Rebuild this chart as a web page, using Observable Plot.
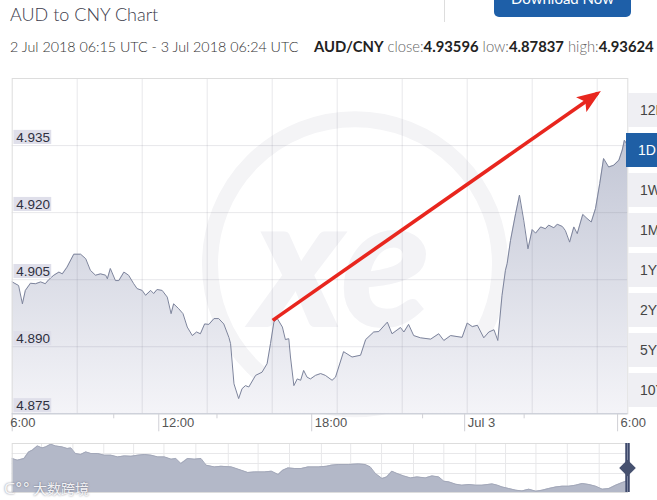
<!DOCTYPE html>
<html><head><meta charset="utf-8">
<script src="https://cdn.jsdelivr.net/npm/d3@7"></script>
<script src="https://cdn.jsdelivr.net/npm/@observablehq/plot@0.6"></script>
<style>
body{margin:0;background:#fff;width:657px;height:500px;overflow:hidden;position:relative;font-family:Lato,"Open Sans",sans-serif;}
#title{position:absolute;left:10px;top:3px;font-size:18px;font-weight:300;color:#3b3b4b;white-space:nowrap;}
#sub{position:absolute;left:10px;top:38px;font-size:14.3px;font-weight:300;color:#333;white-space:nowrap;}
#stats{position:absolute;left:314px;top:37px;font-size:14.8px;color:#666;white-space:nowrap;font-weight:300;}
#stats b{color:#222;font-weight:700;}
#sep{position:absolute;left:444px;top:0;width:1px;height:22px;background:#ddd;}
#dl{position:absolute;left:494px;top:0;width:137px;height:17px;background:#1e5fa8;border-radius:0 0 5px 5px;overflow:hidden;}
#dl span{position:absolute;left:0;right:0;top:-9px;text-align:center;color:#fff;font-size:15px;line-height:15px;}
#main{position:absolute;left:0;top:60px;}
#nav{position:absolute;left:0;top:440px;}
.btn{position:absolute;left:628px;width:40px;height:34px;background:#efeff3;color:#444;font-family:"Liberation Sans",Arial,sans-serif;font-size:14px;line-height:34px;padding-left:12px;box-sizing:border-box;}
.btn.on{background:#1f5fa5;color:#fff;left:626px;}
#wm{position:absolute;left:4px;top:478px;font-family:"Noto Sans CJK SC",sans-serif;font-size:14px;color:rgba(255,255,255,0.9);text-shadow:0 0 2px rgba(90,90,110,0.8);white-space:nowrap;}
</style></head><body>
<div id="title"></div>
<div id="sub"></div>
<div id="stats"></div>
<div id="sep"></div>
<div id="dl"><span>Download Now</span></div>
<div id="main"></div>
<div id="nav"></div>
<div id="wm"></div>
<script>
// ---------- data ----------
const chartTitle = "AUD to CNY Chart";
const rangeText = "2 Jul 2018 06:15 UTC - 3 Jul 2018 06:24 UTC";
const pair = "AUD/CNY";
const statNames = ["close", "low", "high"];
const statValues = ["4.93596", "4.87837", "4.93624"];
const rangeButtons = ["12H", "1D", "1W", "1M", "1Y", "2Y", "5Y", "10Y"];
const activeButton = "1D";

const times = ["02 06:15","02 06:30","02 06:39","02 06:46","02 06:58","02 07:10","02 07:22","02 07:33","02 07:41","02 07:53",
"02 08:05","02 08:13","02 08:24","02 08:40","02 08:56","02 09:08","02 09:19","02 09:31","02 09:43","02 09:55",
"02 09:59","02 10:06","02 10:18","02 10:26","02 10:38","02 10:49","02 11:01","02 11:09","02 11:21","02 11:29",
"02 11:41","02 11:48","02 11:56","02 12:08","02 12:20","02 12:29","02 12:35","02 12:47","02 12:57","02 13:07",
"02 13:19","02 13:29","02 13:38","02 13:48","02 13:58","02 14:10","02 14:21","02 14:33","02 14:45","02 14:49",
"02 14:57","02 15:08","02 15:16","02 15:24","02 15:32","02 15:48","02 16:03","02 16:15","02 16:23","02 16:31",
"02 16:39","02 16:51","02 16:58","02 17:06","02 17:10","02 17:18","02 17:26","02 17:34","02 17:41","02 17:49",
"02 17:57","02 18:09","02 18:21","02 18:32","02 18:48","02 18:56","02 19:15","02 19:35","02 19:55","02 20:07",
"02 20:26","02 20:38","02 20:58","02 21:09","02 21:29","02 21:37","02 21:48","02 22:00","02 22:16","02 22:40",
"02 22:59","02 23:11","02 23:27","02 23:54","03 00:06","03 00:18","03 00:30","03 00:45","03 00:57","03 01:09",
"03 01:18","03 01:28","03 01:36","03 01:40","03 01:48","03 02:00","03 02:09","03 02:19","03 02:29","03 02:39",
"03 02:47","03 02:59","03 03:10","03 03:18","03 03:30","03 03:38","03 03:50","03 03:57","03 04:07","03 04:17",
"03 04:25","03 04:38","03 04:48","03 04:58","03 05:08","03 05:18","03 05:27","03 05:39","03 05:51","03 06:03",
"03 06:11","03 06:16","03 06:21","03 06:24"];
const rates = [4.9045,4.9037,4.8996,4.9026,4.9042,4.9041,4.9045,4.9041,4.9050,4.9060,
4.9067,4.9063,4.9078,4.9107,4.9107,4.9097,4.9071,4.9060,4.9063,4.9060,
4.9052,4.9075,4.9048,4.9048,4.9067,4.9060,4.9041,4.9030,4.9026,4.9015,
4.9026,4.9019,4.9028,4.9026,4.9011,4.8974,4.8996,4.8985,4.8974,4.8944,
4.8925,4.8933,4.8929,4.8951,4.8950,4.8963,4.8963,4.8951,4.8921,4.8907,
4.8817,4.8784,4.8806,4.8813,4.8810,4.8836,4.8843,4.8862,4.8907,4.8955,
4.8963,4.8944,4.8916,4.8918,4.8877,4.8813,4.8828,4.8825,4.8847,4.8832,
4.8828,4.8836,4.8840,4.8836,4.8825,4.8832,4.8889,4.8877,4.8881,4.8916,
4.8933,4.8934,4.8955,4.8929,4.8943,4.8933,4.8950,4.8925,4.8920,4.8917,
4.8929,4.8914,4.8925,4.8921,4.8953,4.8945,4.8948,4.8920,4.8933,4.8938,
4.8914,4.9015,4.9071,4.9086,4.9138,4.9198,4.9239,4.9183,4.9119,4.9162,
4.9154,4.9168,4.9164,4.9172,4.9166,4.9174,4.9169,4.9160,4.9134,4.9168,
4.9153,4.9196,4.9187,4.9179,4.9209,4.9265,4.9321,4.9302,4.9306,4.9317,
4.9340,4.9362,4.9354,4.9360];

const xDomainText = ["02 06:15", "03 06:24"];
const yDomain = [4.875, 4.950];
const yTicks = [4.875, 4.890, 4.905, 4.920, 4.935];
const xTickTimes = ["02 06:15", "02 12:00", "02 18:00", "03 00:00", "03 06:00"];
const xTickLabels = ["6:00", "12:00", "18:00", "Jul 3", "6:00"];
const xMinorTimes = ["02 10:14", "02 14:17", "02 22:21", "03 02:20"];
const xGridTimes = ["02 08:48", "02 11:21", "02 13:54", "02 16:27", "02 19:00", "02 21:33", "03 00:06", "03 02:39", "03 05:12"];
const arrowStart = {time: "02 16:28", value: 4.8959};
const arrowEnd = {time: "03 05:13", value: 4.9467};

// navigator (longer history, day offsets)
const navDays = [0,1.0,2.3,3.2,3.9,4.9,5.8,6.5,7.5,8.4,9.7,10.7,11.4,12.3,13.3,14.3,15.3,16.6,17.9,19.2,
20.5,21.8,23.1,24.4,25.7,27.0,28.3,29.6,30.9,31.8,32.8,34.1,35.4,36.7,37.7,39.3,40.6,42.6,44.5,45.8,
47.1,49.0,50.4,51.7,52.6,53.6,54.9,56.2,57.5,59.5,61.1,62.0,63.4,65.4,67.3,68.6,69.6,70.6,71.9,72.8,
73.8,74.8,76.1,77.4,78.7,80.3,81.6,82.9,83.9,84.9,86.2,87.4,88.8,90.1,91.3,93.3,94.3,95.2,96.5,97.9,
99.1,100.4,101.8,103.0,104.3,105.7,106.9,108.2,109.5,110.8,112.1,113.4,114.7,116.0,117.3,118.6,119.3];
const navRates = [5.030,5.0215,5.030,5.063,5.0715,5.093,5.083,5.088,5.1015,5.093,5.088,5.080,5.083,5.055,5.050,5.063,5.055,5.055,5.0465,5.0465,
5.038,5.043,5.041,5.0465,5.050,5.0465,5.038,5.038,5.0265,5.030,5.005,5.030,5.0265,5.030,4.9965,4.988,4.991,4.988,4.9715,4.960,
4.963,4.963,4.9665,4.950,4.9715,4.983,4.980,4.980,4.988,4.988,4.991,4.9965,5.000,5.000,5.003,5.000,4.988,4.955,4.930,4.938,
4.9665,4.955,4.943,4.933,4.938,4.933,4.943,4.938,4.9165,4.913,4.9015,4.8965,4.900,4.8965,4.8965,4.903,4.8965,4.888,4.880,4.8715,
4.868,4.8765,4.8665,4.8715,4.880,4.888,4.8915,4.8915,4.8965,4.905,4.900,4.8915,4.8765,4.880,4.8965,4.910,4.9165];
const navDomainX = [0, 119.6];
const navDomainY = [4.86, 5.105];
const navGridY = [4.955, 5.005, 5.055];
const navGridDays = [5.7,11.8,17.8,23.6,29.5,35.7,42.0,47.8,53.9,60.1,65.8,71.8,78.0,83.9,90.1,95.9,101.8,107.9,114.1];
const watermarkText = "大数跨境";

// ---------- header ----------
document.getElementById("title").textContent = chartTitle;
document.getElementById("sub").textContent = rangeText;
document.getElementById("stats").innerHTML = `<b>${pair}</b> ` + statNames.map((n, i) => `${n}:<b>${statValues[i]}</b>`).join(" ");
rangeButtons.forEach((b, i) => {
  const el = document.createElement("div");
  el.className = "btn" + (b === activeButton ? " on" : "");
  el.style.top = (93 + i * 40) + "px";
  el.textContent = b;
  document.body.appendChild(el);
});
document.getElementById("wm").innerHTML = `<span style="font-family:'DejaVu Sans';font-size:15px">ᑕ°°</span> ${watermarkText}`;

// ---------- main chart ----------
const parse = s => d3.utcParse("%Y-%m-%d %H:%M")("2018-07-" + s);
const data = times.map((t, i) => ({date: parse(t), value: rates[i]}));
const xDomain = xDomainText.map(parse);
const tickDates = xTickTimes.map(parse);
const arrow = [{t1: parse(arrowStart.time), v1: arrowStart.value, t2: parse(arrowEnd.time), v2: arrowEnd.value}];
const axisFont = "'Liberation Sans', Arial, sans-serif";
const fmt = d3.format(".3f");
// label box extent, in scale units (about 40 px wide, 14 px tall, just above the grid line)
const boxMinutes = 93, boxBottom = 0.00025, boxTop = 0.0034;
const boxes = yTicks.map(v => ({
  x1: new Date(+xDomain[0] + 4 * 60000), x2: new Date(+xDomain[0] + boxMinutes * 60000),
  y1: v + boxBottom, y2: v + boxTop
}));

const chart = Plot.plot({
  width: 657, height: 380,
  marginTop: 18, marginRight: 29.7, marginBottom: 26.7, marginLeft: 11.7,
  x: {type: "utc", domain: xDomain},
  y: {domain: yDomain, axis: null},
  style: {background: "transparent", overflow: "visible"},
  marks: [
    Plot.dot([0], {frameAnchor: "middle", r: 145, stroke: "#f4f4f6", strokeWidth: 16, fill: "none", dx: 35, dy: 18}),
    Plot.text(["xe"], {frameAnchor: "middle", text: d => d, fontSize: 185, fontWeight: 900, fontStyle: "italic", fontFamily: "Lato, sans-serif", fill: "#f3f3f6", dx: 22, dy: 22}),
    Plot.areaY(data, {x: "date", y1: yDomain[0], y2: "value", fill: "url(#areaGrad)"}),
    Plot.ruleY(yTicks.slice(1), {stroke: "rgba(110,110,130,0.16)"}),
    Plot.ruleX(xGridTimes.map(parse), {stroke: "rgba(110,110,130,0.16)"}),
    Plot.lineY(data, {x: "date", y: "value", stroke: "#7d849c", strokeWidth: 1}),
    Plot.frame({stroke: "#dddddd"}),
    Plot.ruleY([yDomain[0]], {stroke: "#c4c8d4"}),
    Plot.axisX({ticks: tickDates, tickSize: 18, tickFormat: () => "", stroke: "#d0d0d6"}),
    Plot.axisX({ticks: xMinorTimes.map(parse), tickSize: 5, tickFormat: () => "", stroke: "#d0d0d6"}),
    Plot.text([tickDates[0]], {x: d => d, text: [xTickLabels[0]], frameAnchor: "bottom", lineAnchor: "top", textAnchor: "start", dx: -2, dy: 4, fill: "#555", fontSize: 13, fontFamily: axisFont}),
    Plot.text(tickDates.slice(1), {x: d => d, text: (d, i) => xTickLabels[i + 1], frameAnchor: "bottom", lineAnchor: "top", textAnchor: "start", dx: 3, dy: 4, fill: "#555", fontSize: 13, fontFamily: axisFont}),
    Plot.rect(boxes, {x1: "x1", x2: "x2", y1: "y1", y2: "y2", fill: "#dfdfea"}),
    Plot.text(yTicks, {y: d => d, text: d => fmt(d), frameAnchor: "left", textAnchor: "start", dx: 4, dy: -8, fill: "#2e3040", fontSize: 13.5, fontFamily: axisFont}),
    Plot.link(arrow, {x1: "t1", y1: "v1", x2: "t2", y2: "v2", stroke: "#e8261e", strokeWidth: 3.6})
  ]
});
document.getElementById("main").appendChild(chart);

const svg = d3.select(chart);
const defs = svg.insert("defs", ":first-child");
const grad = defs.append("linearGradient").attr("id", "areaGrad").attr("x1", 0).attr("y1", 0).attr("x2", 0).attr("y2", 1);
grad.append("stop").attr("offset", 0).attr("stop-color", "#c2c6d5");
grad.append("stop").attr("offset", 1).attr("stop-color", "#f4f4f8");
defs.append("marker").attr("id", "redArrow").attr("viewBox", "0 0 24 18").attr("refX", 20).attr("refY", 9)
  .attr("markerWidth", 24).attr("markerHeight", 18).attr("markerUnits", "userSpaceOnUse").attr("orient", "auto")
  .append("path").attr("d", "M0,0L24,9L0,18L5,9Z").attr("fill", "#e8261e");
svg.selectAll('g[aria-label="link"] path').attr("marker-end", "url(#redArrow)");

// ---------- navigator ----------
const navData = navDays.map((d, i) => ({day: d, value: navRates[i]}));
const lastDay = navDomainX[1];
const nav = Plot.plot({
  width: 657, height: 60,
  marginTop: 3, marginRight: 30, marginBottom: 8, marginLeft: 11.7,
  x: {domain: navDomainX, axis: null},
  y: {domain: navDomainY, axis: null},
  style: {background: "transparent", overflow: "visible"},
  marks: [
    Plot.ruleY(navGridY, {stroke: "#e8e8ea"}),
    Plot.ruleX(navGridDays, {stroke: "#e8e8ea"}),
    Plot.areaY(navData, {x: "day", y1: navDomainY[0], y2: "value", fill: "#b3b8c8"}),
    Plot.lineY(navData, {x: "day", y: "value", stroke: "#a3a8b9", strokeWidth: 1}),
    Plot.frame({stroke: "#dddddd"}),
    Plot.ruleX([lastDay], {stroke: "#3f4a6c", strokeWidth: 4.5}),
    Plot.ruleX([lastDay], {stroke: "#8d95ad", strokeWidth: 0.8}),
    Plot.dotX([lastDay], {x: d => d, symbol: "diamond2", r: 7.5, fill: "#46516f", stroke: "none"})
  ]
});
document.getElementById("nav").appendChild(nav);
</script>
</body></html>
